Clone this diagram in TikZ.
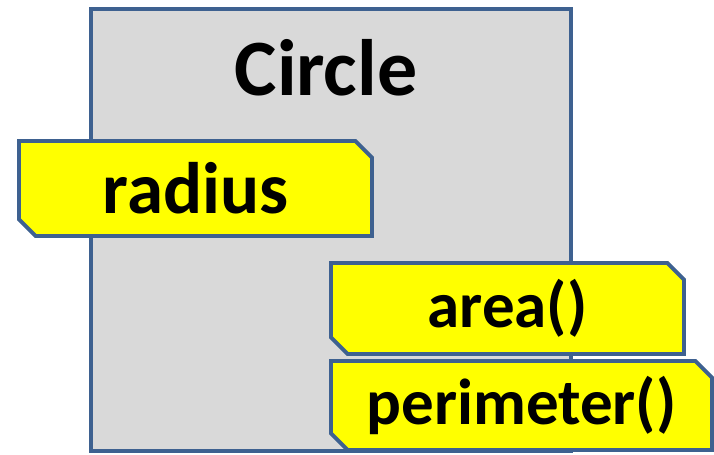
\documentclass[tikz,border=0pt]{standalone}
\usepackage{fontspec}
\setmainfont{Carlito}
\usetikzlibrary{positioning, shapes.misc}

\definecolor{edge}{HTML}{3E6190}
\definecolor{body}{HTML}{D9D9D9}
\definecolor{slot}{HTML}{FFFF00}

\tikzset{
  classbox/.style={draw=edge, fill=body, line width=2.2pt, inner sep=0pt},
  member/.style={chamfered rectangle, chamfered rectangle corners={north east, south west},
    chamfered rectangle xsep=0.22cm, draw=edge, fill=slot, line width=2.2pt, inner sep=0pt,
    font=\fontsize{37}{40}\selectfont\bfseries}
}

\begin{document}
\begin{tikzpicture}[x=0.02cm, y=-0.02cm]
    \useasboundingbox (0,0) rectangle (714,454);

    % Class body and its name
    \node[classbox, minimum width=9.6cm, minimum height=8.84cm] (circle) at (331,230) {};
    \node[font=\fontsize{45.5}{50}\selectfont\bfseries] (name) at (326,68) {Circle};

    % Attribute and methods
    \node[member, minimum width=7.06cm, minimum height=1.9cm,
      font=\fontsize{41.5}{45}\selectfont\bfseries] (radius) at (195.5,188.5) {radius};
    \node[member, minimum width=7.06cm, minimum height=1.82cm] (area) at (507.5,308.5) {area()};
    \node[member, minimum width=7.62cm, minimum height=1.78cm] (perimeter) at (521.5,405.5) {perimeter()};

\end{tikzpicture}
\end{document}
